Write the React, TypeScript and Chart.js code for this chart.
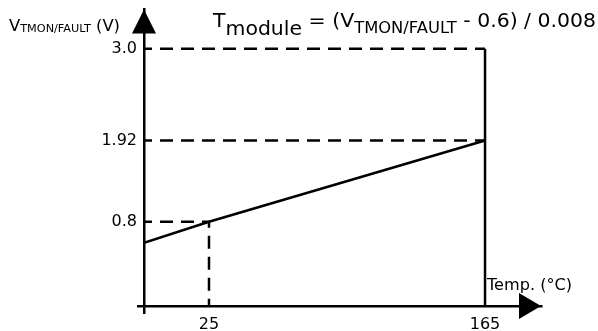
import React, { useEffect, useRef } from 'react';
import { Chart, registerables, LinearScale } from 'chart.js';

// ---------- data ----------
const tempC = [0, 25, 165];
const vTmon = [0.6, 0.8, 1.92];

const xTickValues = [0, 25, 165];
const xTickLabels = ['', '25', '165'];
const yTickValues = [0, 0.8, 1.92, 3.0];
const yTickLabels = ['', '0.8', '1.92', '3.0'];

const guideTopX = [0, 165];
const guideTopY = [3.0, 3.0];
const guideMaxX = [0, 165];
const guideMaxY = [1.92, 1.92];
const guideRoomX = [0, 25, 25];
const guideRoomY = [0.8, 0.8, 0];
const limitX = [165, 165];
const limitY = [3.0, 0];

// schematic (not to scale) axes: value -> fraction of axis length
const xBreakValues = [0, 25, 165, 193];
const xBreakDecimals = [0, 0.1637, 0.859, 1];
const yBreakValues = [0, 0.8, 1.92, 3.0, 3.46];
const yBreakDecimals = [0, 0.2843, 0.5585, 0.868, 1];

const FONT = '"DejaVu Sans", sans-serif';
const LW = 2.5;

// ---------- piecewise linear scale ----------
function interp(v: number, from: number[], to: number[]) {
  let i = 0;
  while (i < from.length - 2 && v > from[i + 1]) i++;
  const a0 = from[i], a1 = from[i + 1], b0 = to[i], b1 = to[i + 1];
  return b0 + ((v - a0) * (b1 - b0)) / (a1 - a0);
}

class PiecewiseScale extends LinearScale {
  static id = 'piecewise';
  static defaults = { ...(LinearScale as any).defaults };
  getPixelForValue(value: any) {
    if (value === null || value === undefined || Number.isNaN(+value)) return NaN;
    const o: any = (this as any).options;
    return (this as any).getPixelForDecimal(interp(+value, o.breakValues, o.breakDecimals));
  }
  getValueForPixel(pixel: number) {
    const o: any = (this as any).options;
    return interp((this as any).getDecimalForPixel(pixel), o.breakDecimals, o.breakValues);
  }
}

Chart.register(...registerables, PiecewiseScale as any);

function pts(xs: number[], ys: number[]) {
  return xs.map((x, i) => ({ x, y: ys[i] }));
}

type Run = { text: string; size: number; base: number };
function drawRuns(ctx: CanvasRenderingContext2D, runs: Run[], x0: number, width: number) {
  let total = 0;
  const ws: number[] = [];
  for (const r of runs) {
    ctx.font = `${r.size}px ${FONT}`;
    const w = ctx.measureText(r.text).width;
    ws.push(w);
    total += w;
  }
  const sx = width / total;
  ctx.save();
  ctx.translate(x0, 0);
  ctx.scale(sx, 1);
  let x = 0;
  runs.forEach((r, i) => {
    ctx.font = `${r.size}px ${FONT}`;
    ctx.fillText(r.text, x, r.base);
    x += ws[i];
  });
  ctx.restore();
}

const decorPlugin = {
  id: 'decor',
  afterDraw(chart: any) {
    const ctx: CanvasRenderingContext2D = chart.ctx;
    const area = chart.chartArea;
    const xs = chart.scales.x;
    const ys = chart.scales.y;
    const ox = xs.getPixelForValue(0);
    const oy = ys.getPixelForValue(0);
    ctx.save();
    ctx.fillStyle = '#000';
    // y arrow
    ctx.beginPath();
    ctx.moveTo(ox, area.top);
    ctx.lineTo(ox - 12, area.top + 24);
    ctx.lineTo(ox + 12, area.top + 24);
    ctx.closePath();
    ctx.fill();
    // x arrow
    ctx.beginPath();
    ctx.moveTo(area.right, oy);
    ctx.lineTo(area.right - 22, oy - 13);
    ctx.lineTo(area.right - 22, oy + 13);
    ctx.closePath();
    ctx.fill();

    ctx.textAlign = 'left';
    ctx.textBaseline = 'alphabetic';
    // y axis title
    drawRuns(ctx, [
      { text: 'V', size: 16, base: 31 },
      { text: 'TMON/FAULT', size: 11, base: 32 },
      { text: ' (V)', size: 16, base: 31 },
    ], 9, 111);
    // formula
    drawRuns(ctx, [
      { text: 'T', size: 20, base: 27 },
      { text: 'module', size: 20, base: 35 },
      { text: ' = (V', size: 20, base: 27 },
      { text: 'TMON/FAULT', size: 16, base: 33 },
      { text: ' - 0.6) / 0.008', size: 20, base: 27 },
    ], 213, 383);
    // x axis title
    drawRuns(ctx, [{ text: 'Temp. (°C)', size: 15.5, base: 290 }], 487, 85);
    ctx.restore();
  },
};

export default function App() {
  const ref = useRef<HTMLCanvasElement | null>(null);
  useEffect(() => {
    if (!ref.current) return;
    const solid = { borderColor: '#000', borderWidth: LW, pointRadius: 0, fill: false, tension: 0 };
    const dashed = { ...solid, borderDash: [13, 8], borderDashOffset: 5 };
    const gridOpts = {
      drawOnChartArea: false,
      drawTicks: true,
      lineWidth: LW,
      color: (c: any) => (c.tick && c.tick.value === 0 ? '#000' : 'rgba(0,0,0,0)'),
    };
    const chart = new Chart(ref.current, {
      type: 'line',
      data: {
        datasets: [
          { ...solid, label: 'V_TMON/FAULT', data: pts(tempC, vTmon) },
          { ...dashed, label: '3.0 V', data: pts(guideTopX, guideTopY) },
          { ...dashed, label: '1.92 V', data: pts(guideMaxX, guideMaxY) },
          { ...dashed, label: '25 °C', data: pts(guideRoomX, guideRoomY) },
          { ...solid, label: '165 °C', data: pts(limitX, limitY) },
        ] as any,
      },
      options: {
        animation: false,
        responsive: false,
        devicePixelRatio: 1,
        layout: { padding: { top: 7, right: 57, left: 0, bottom: 0 } },
        plugins: { legend: { display: false }, tooltip: { enabled: false } },
        scales: {
          x: {
            type: 'piecewise' as any,
            min: xBreakValues[0],
            max: xBreakValues[xBreakValues.length - 1],
            breakValues: xBreakValues,
            breakDecimals: xBreakDecimals,
            afterBuildTicks: (s: any) => { s.ticks = xTickValues.map((value) => ({ value })); },
            afterFit: (s: any) => { s.height = 25; },
            border: { display: true, color: '#000', width: LW },
            grid: { ...gridOpts, tickLength: 8 },
            ticks: {
              autoSkip: false,
              maxRotation: 0,
              padding: 1,
              color: '#000',
              font: { family: FONT, size: 16 },
              callback: (_v: any, i: number) => xTickLabels[i],
            },
          } as any,
          y: {
            type: 'piecewise' as any,
            min: yBreakValues[0],
            max: yBreakValues[yBreakValues.length - 1],
            breakValues: yBreakValues,
            breakDecimals: yBreakDecimals,
            afterBuildTicks: (s: any) => { s.ticks = yTickValues.map((value) => ({ value })); },
            afterFit: (s: any) => { s.width = 144; },
            border: { display: true, color: '#000', width: LW },
            grid: { ...gridOpts, tickLength: 7 },
            ticks: {
              autoSkip: false,
              padding: 0,
              color: '#000',
              font: { family: FONT, size: 16 },
              callback: (_v: any, i: number) => yTickLabels[i],
            },
          } as any,
        },
      },
      plugins: [decorPlugin],
    });
    return () => chart.destroy();
  }, []);
  return (
    <div style={{ position: 'absolute', left: 0, top: 0, width: 598, height: 331, background: '#fff' }}>
      <canvas ref={ref} width={598} height={331} style={{ display: 'block' }} />
    </div>
  );
}
